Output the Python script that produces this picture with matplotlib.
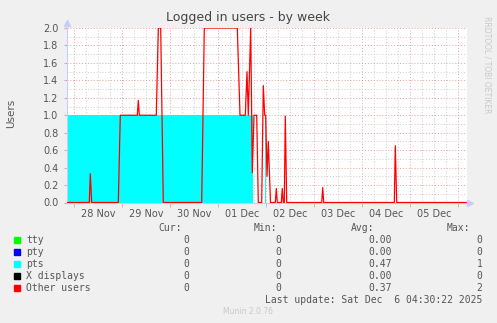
import numpy as np
import matplotlib.pyplot as plt

# hours relative to 28 Nov 00:00 (graph spans 27 Nov 20:30 .. 6 Dec 04:30)
day_labels = ["28 Nov", "29 Nov", "30 Nov", "01 Dec", "02 Dec", "03 Dec", "04 Dec", "05 Dec"]

# pts (area, stepped)
pts_t = [-3.5, 89.5, 95.5, 96.0, 196.5]
pts_v = [1.0, 0.0, 1.0, 0.0, 0.0]

# Other users (line)
other_t = [-3.5, 7.65, 8.15, 8.85, 22.15, 23.15, 31.65, 32.15, 32.65, 41.15,
           42.15, 43.35, 44.65, 63.85, 65.15, 81.65, 83.0, 85.65, 86.5, 87.15,
           88.35, 89.15, 90.0, 91.35, 92.15, 93.85, 94.65, 95.35, 95.85, 96.5,
           97.15, 98.25, 100.65, 101.15, 101.65, 103.65, 104.15, 104.65, 105.15,
           105.65, 106.35, 123.85, 124.35, 124.85, 160.15, 160.65, 161.35, 196.5]
other_v = [0, 0, 0.33, 0, 0, 1.0, 1.0, 1.17, 1.0, 1.0,
           2.0, 2.0, 0, 0, 2.0, 2.0, 1.0, 1.0, 1.5, 1.0,
           2.0, 0.34, 1.0, 1.0, 0, 0, 1.34, 1.0, 1.0, 0.3,
           0.7, 0, 0, 0.16, 0, 0, 0.16, 0, 0,
           0.99, 0, 0, 0.17, 0, 0, 0.65, 0, 0]

series = ["tty", "pty", "pts", "X displays", "Other users"]
colors = ["#00FF00", "#0000FF", "#00FFFF", "#000000", "#FF0000"]
cur = ["0", "0", "0", "0", "0"]
mins = ["0", "0", "0", "0", "0"]
avgs = ["0.00", "0.00", "0.47", "0.00", "0.37"]
maxs = ["0", "0", "1", "0", "2"]

W, H = 497, 323
fig = plt.figure(figsize=(W / 100, H / 100), dpi=100, facecolor="#F0F0F0")
ax = fig.add_axes([67 / W, 1 - 202.5 / H, 400 / W, 174.5 / H], facecolor="white")

xmin, xmax = -3.5, 196.5
ax.set_xlim(xmin, xmax)
ax.set_ylim(0, 2.0)

# grid
for h in range(0, 197, 6):
    if h % 24 == 0:
        ax.axvline(h, color="#E8A0A0", lw=0.7, ls=(0, (1, 2)), zorder=1)
    else:
        ax.axvline(h, color="#CCCCCC", lw=0.7, ls=(0, (1, 2)), zorder=1)
for i in range(1, 21):
    y = i / 10
    if i % 2 == 0:
        ax.axhline(y, color="#E8A0A0", lw=0.7, ls=(0, (1, 2)), zorder=1)
    else:
        ax.axhline(y, color="#CCCCCC", lw=0.7, ls=(0, (1, 2)), zorder=1)

ax.fill_between(pts_t, pts_v, step="post", color="#00FFFF", lw=0, zorder=2)
ax.plot(other_t, other_v, color="#FF0000", lw=0.9, zorder=3)

# ticks
noons = [12 + 24 * i for i in range(len(day_labels))]
ax.set_xticks(noons, day_labels)
ax.set_xticks([24 * i for i in range(9)], minor=True)
ax.tick_params(axis="x", which="major", length=0, pad=5, labelsize=7, labelcolor="#555555")
ax.tick_params(axis="x", which="minor", length=3, color="#E8A0A0", direction="out")
ax.set_yticks(np.arange(0, 2.01, 0.2), [f"{v:.1f}" for v in np.arange(0, 2.01, 0.2)])
ax.tick_params(axis="y", length=2, color="#E8A0A0", pad=4, labelsize=7, labelcolor="#555555")

for s in ["top", "right"]:
    ax.spines[s].set_visible(False)
ax.spines["left"].set_color("#C8CCF8")
ax.spines["bottom"].set_color("#C8CCF8")
ax.spines["left"].set_linewidth(0.8)
ax.spines["bottom"].set_linewidth(0.8)
ax.plot([xmin], [2.06], marker="^", ms=4, color="#C8CCF8", clip_on=False, zorder=5)
ax.plot([xmax + 1.5], [0], marker=">", ms=4, color="#C8CCF8", clip_on=False, zorder=5)

fig.text(11 / W, 1 - 113 / H, "Users", rotation=90, ha="center", va="center",
         fontsize=7.5, color="#555555")

fig.text(248 / W, 1 - 18 / H, "Logged in users - by week", ha="center", va="center",
         fontsize=9, color="#444444")
fig.text(487 / W, 1 - 65 / H, "RRDTOOL / TOBI OETIKER", rotation=270, ha="center",
         va="center", fontsize=5.5, color="#C8C8C8")

# legend
mono = "DejaVu Sans Mono"
tc = "#555555"
fig.text(182 / W, 1 - 228 / H, "Cur:", ha="right", va="center", family=mono, fontsize=7, color=tc)
fig.text(277 / W, 1 - 228 / H, "Min:", ha="right", va="center", family=mono, fontsize=7, color=tc)
fig.text(374 / W, 1 - 228 / H, "Avg:", ha="right", va="center", family=mono, fontsize=7, color=tc)
fig.text(470 / W, 1 - 228 / H, "Max:", ha="right", va="center", family=mono, fontsize=7, color=tc)
for i, name in enumerate(series):
    y = 1 - (240 + 12 * i) / H
    fig.patches.append(plt.Rectangle((14 / W, y - 3 / H), 6 / W, 6 / H,
                                     transform=fig.transFigure, color=colors[i]))
    fig.text(26.5 / W, y, name, ha="left", va="center", family=mono, fontsize=7, color=tc)
    fig.text(189.5 / W, y, cur[i], ha="right", va="center", family=mono, fontsize=7, color=tc)
    fig.text(281.5 / W, y, mins[i], ha="right", va="center", family=mono, fontsize=7, color=tc)
    fig.text(391.5 / W, y, avgs[i], ha="right", va="center", family=mono, fontsize=7, color=tc)
    fig.text(482.5 / W, y, maxs[i], ha="right", va="center", family=mono, fontsize=7, color=tc)

fig.text(482.5 / W, 1 - 300 / H, "Last update: Sat Dec  6 04:30:22 2025", ha="right",
         va="center", family=mono, fontsize=7, color=tc)
fig.text(248 / W, 1 - 311.5 / H, "Munin 2.0.76", ha="center", va="center",
         fontsize=5.5, color="#C8C8C8")

fig.savefig("out.png", dpi=100, facecolor=fig.get_facecolor())
